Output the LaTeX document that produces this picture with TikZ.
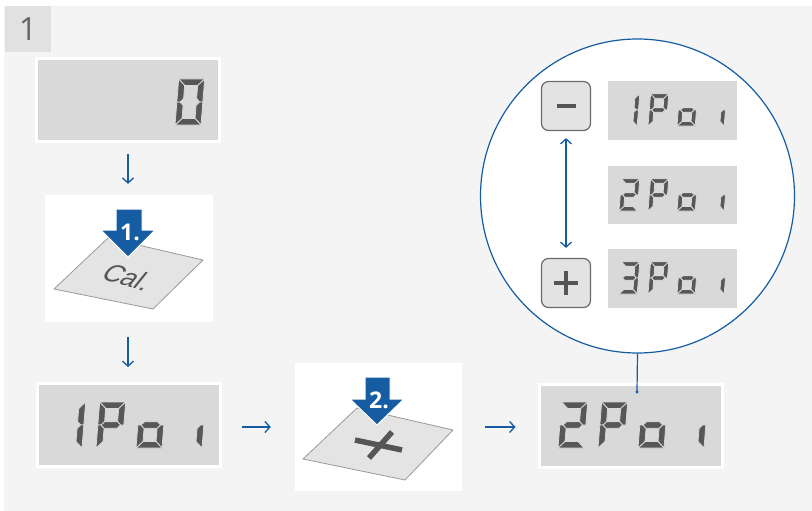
\documentclass[tikz,border=0pt]{standalone}
\usepackage{fontspec}
\setmainfont{Open Sans}
\setsansfont{Liberation Sans}
\usetikzlibrary{arrows.meta}
\definecolor{panel}{HTML}{F4F4F4}
\definecolor{tagbg}{HTML}{E1E1E1}
\definecolor{dispbg}{HTML}{D9D9D9}
\definecolor{segc}{HTML}{575757}
\definecolor{paper}{HTML}{E4E4E4}
\definecolor{paperedge}{HTML}{9A9A9A}
\definecolor{bluec}{RGB}{22,92,162}
\definecolor{btnbg}{HTML}{E3E3E3}
\definecolor{btnedge}{HTML}{6A6A6A}
\definecolor{inkc}{HTML}{555555}
\tikzset{
  seg/.style={fill=segc, draw=dispbg, line width=0.8pt, line join=bevel},
  display/.style={fill=dispbg, draw=white, line width=3pt, minimum width=183pt, minimum height=83pt, inner sep=0pt},
  smalldisp/.style={fill=dispbg, draw=none, minimum width=129pt, inner sep=0pt},
  card/.style={fill=white, draw=none, inner sep=0pt},
  paperface/.style={fill=paper, draw=paperedge, line width=0.8pt, line join=round},
  bigarrow/.style={fill=bluec, draw=white, line width=1pt, line join=miter},
  flowarrow/.style={draw=bluec, line width=1.3pt, -{Straight Barb[length=5pt,width=11pt,line width=1.3pt]}},
  btn/.style={fill=btnbg, draw=btnedge, line width=1.2pt, rounded corners=7pt, minimum width=49pt, minimum height=49pt, inner sep=0pt},
  glyph/.style={draw=inkc, line width=3.5pt},
  steplabel/.style={text=white, font=\bfseries\fontsize{23}{23}\selectfont, inner sep=0pt},
}
\newcommand\lcdA{\path[seg](0,46)--(26,46)--(19.5,39.5)--(6.5,39.5)--cycle;}
\newcommand\lcdB{\path[seg](26,46)--(19.5,39.5)--(19.5,26.5)--(22.75,23)--(26,23)--cycle;}
\newcommand\lcdC{\path[seg](26,0)--(19.5,6.5)--(19.5,19.5)--(22.75,23)--(26,23)--cycle;}
\newcommand\lcdD{\path[seg](0,0)--(26,0)--(19.5,6.5)--(6.5,6.5)--cycle;}
\newcommand\lcdE{\path[seg](0,0)--(6.5,6.5)--(6.5,19.5)--(3.25,23)--(0,23)--cycle;}
\newcommand\lcdF{\path[seg](0,46)--(6.5,39.5)--(6.5,26.5)--(3.25,23)--(0,23)--cycle;}
\newcommand\lcdG{\path[seg](3.25,23)--(6.5,26.25)--(19.5,26.25)--(22.75,23)--(19.5,19.75)--(6.5,19.75)--cycle;}
\newcommand\lcdd[4]{\begin{scope}[shift={(#1,#2)},x=1pt,y=1pt,scale=#3,xslant=0.08]#4\end{scope}}
\newcommand\lcdPoi[4]{% x of P cell, pitch, bottom, scale
  \lcdd{#1}{#3}{#4}{\lcdA\lcdB\lcdF\lcdE\lcdG}%
  \lcdd{#1+#2}{#3}{#4}{\lcdC\lcdD\lcdE\lcdG}%
  \lcdd{#1+#2+#2}{#3}{#4}{\lcdC}}
\begin{document}
\begin{tikzpicture}[x=1pt,y=-1pt]
\useasboundingbox (0,0) rectangle (812,511);
\fill[white] (0,0) rectangle (812,511);
\fill[panel] (4,6) rectangle (812,511);
% step tag
\node[fill=tagbg, minimum width=46pt, minimum height=46pt, inner sep=0pt, text=inkc!90,
      font=\fontsize{32}{32}\selectfont] (tag) at (28,29) {1};
% displays and cards
\node[display] (d1) at (128,100) {};
\node[card, minimum width=168pt, minimum height=127pt] (c1) at (129,258.5) {};
\node[display] (d2) at (128.5,425) {};
\node[card, minimum width=167pt, minimum height=128pt] (c2) at (378.5,427) {};
\node[display] (d3) at (630.5,425.5) {};
% digits
\lcdd{175}{125}{1}{\lcdA\lcdB\lcdC\lcdD\lcdE\lcdF}
\lcdd{56}{448}{1}{\lcdB\lcdC}
\lcdPoi{96}{40}{448}{1}
\lcdd{558}{448}{1}{\lcdA\lcdB\lcdG\lcdE\lcdD}
\lcdPoi{598}{40}{448}{1}
% card 1
\path[paperface] (108,238) -- (203,260) -- (153,309) -- (54,289) -- cycle;
\node[text=inkc, font=\sffamily\fontsize{26}{26}\selectfont, rotate=-17, xslant=0.4, inner sep=0pt] (cal) at (128,277) {Cal.};
\path[bigarrow] (116,209) -- (142,209) -- (142,230) -- (155,230) -- (128,257) -- (101,230) -- (116,230) -- cycle;
\node[steplabel] (s1) at (130,232) {1.};
% card 2
\path[paperface] (357,408) -- (453,430) -- (405,480) -- (303,459) -- cycle;
\draw[glyph, line width=5.5pt] (355,440) -- (402,450);
\draw[glyph, line width=5.5pt] (392,432) -- (369,458);
\path[bigarrow] (365,377) -- (390,377) -- (390,399) -- (404,399) -- (377,425) -- (350,399) -- (365,399) -- cycle;
\node[steplabel] (s2) at (379,400) {2.};
% flow arrows
\draw[flowarrow, shorten <=11pt, shorten >=11pt] (d1.south) -- (d1.south |- c1.north);
\draw[flowarrow, shorten <=15pt, shorten >=15pt] (d1.south |- c1.south) -- (d1.south |- d2.north);
\draw[flowarrow, shorten <=20pt, shorten >=24pt] (d2.east |- c2.west) -- (c2.west);
\draw[flowarrow, shorten <=23pt, shorten >=22pt] (c2.east) -- (c2.east -| d3.west);
% zoom circle
\node[circle, fill=white, draw=bluec, line width=1.2pt, minimum size=314pt, inner sep=0pt] (zc) at (637.5,196) {};
\coordinate (pin) at (637,392);
\draw[bluec, line width=1.2pt] (zc.south) -- (pin);
\fill[bluec] (pin) circle (1.6pt);
% buttons
\node[btn] (bm) at (566,106) {};
\node[btn] (bp) at (566,283) {};
\draw[glyph] (556.5,106) -- (575.5,106);
\draw[glyph] (554,283) -- (578,283);
\draw[glyph] (566,271) -- (566,295);
\draw[draw=bluec, line width=1.3pt, {Straight Barb[length=5pt,width=11pt,line width=1.3pt]}-{Straight Barb[length=5pt,width=11pt,line width=1.3pt]}, shorten <=7pt, shorten >=10pt] (bm.south) -- (bp.north);
% small displays
\node[smalldisp, minimum height=59pt] (sd1) at (672.5,110.5) {};
\node[smalldisp, minimum height=58pt] (sd2) at (672.5,195) {};
\node[smalldisp, minimum height=59pt] (sd3) at (672.5,278.5) {};
\lcdd{619}{126}{0.7}{\lcdB\lcdC}
\lcdPoi{648}{29}{126}{0.7}
\lcdd{619}{211}{0.7}{\lcdA\lcdB\lcdG\lcdE\lcdD}
\lcdPoi{648}{29}{211}{0.7}
\lcdd{619}{294}{0.7}{\lcdA\lcdB\lcdG\lcdC\lcdD}
\lcdPoi{648}{29}{294}{0.7}
\end{tikzpicture}
\end{document}
